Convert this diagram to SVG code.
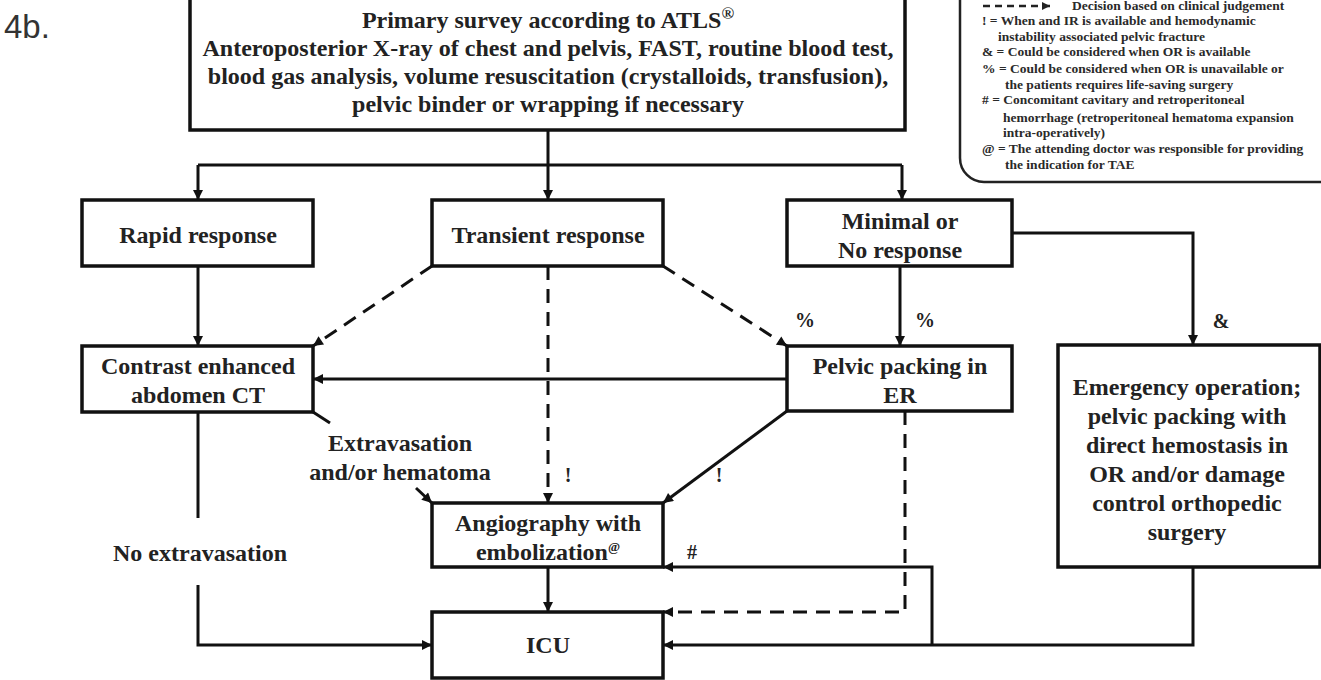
<svg xmlns="http://www.w3.org/2000/svg" width="1321" height="680" viewBox="0 0 1321 680">
<defs>
<style>
.box{fill:#fff;stroke:#111;stroke-width:3.5}
.t{font-family:"Liberation Serif","Times New Roman",serif;font-weight:bold;font-size:24px;fill:#222;text-anchor:middle}
.lbl{font-family:"Liberation Serif","Times New Roman",serif;font-weight:bold;font-size:20px;fill:#222}
.lg{font-family:"Liberation Serif","Times New Roman",serif;font-weight:bold;font-size:13.5px;fill:#2a2a2a}
.ln{fill:none;stroke:#111;stroke-width:3}
.ds{fill:none;stroke:#111;stroke-width:3;stroke-dasharray:14 9}
.arr{marker-end:url(#ah)}
</style>
<marker id="ah" viewBox="0 0 10 10" refX="10" refY="5" markerWidth="11" markerHeight="10" markerUnits="userSpaceOnUse" orient="auto"><path d="M0,0 L10,5 L0,10 z" fill="#111"/></marker>
<marker id="ahs" viewBox="0 0 10 10" refX="10" refY="5" markerWidth="9" markerHeight="8" markerUnits="userSpaceOnUse" orient="auto"><path d="M0,0 L10,5 L0,10 z" fill="#222"/></marker>
</defs>
<rect width="1321" height="680" fill="#fff"/>

<text x="4" y="38" font-family="Liberation Sans, Arial, sans-serif" font-size="33" fill="#333">4b.</text>

<g id="legend">
<rect x="960" y="-25" width="385" height="207" rx="24" ry="24" fill="#fff" stroke="#222" stroke-width="2.5"/>
<path d="M983,6 H1050" fill="none" stroke="#222" stroke-width="2.5" stroke-dasharray="7 5" marker-end="url(#ahs)"/>
<text class="lg" x="1072" y="10">Decision based on clinical judgement</text>
<text class="lg" x="982" y="25">! = When and IR is available and hemodynamic</text>
<text class="lg" x="998" y="41">instability associated pelvic fracture</text>
<text class="lg" x="982" y="56">&amp; = Could be considered when OR is available</text>
<text class="lg" x="982" y="73">% = Could be considered when OR is unavailable or</text>
<text class="lg" x="1005" y="89">the patients requires life-saving surgery</text>
<text class="lg" x="982" y="104"># = Concomitant cavitary and retroperitoneal</text>
<text class="lg" x="1003" y="122">hemorrhage (retroperitoneal hematoma expansion</text>
<text class="lg" x="1003" y="137">intra-operatively)</text>
<text class="lg" x="982" y="153">@ = The attending doctor was responsible for providing</text>
<text class="lg" x="1005" y="169">the indication for TAE</text>
</g>

<g id="connectors">
<path class="ln" d="M548,130 V165 M198,165 H902"/>
<path class="ln arr" d="M198,165 V200"/>
<path class="ln arr" d="M548,165 V200"/>
<path class="ln arr" d="M902,165 V200"/>
<path class="ln arr" d="M198,266 V346"/>
<path class="ds arr" d="M432,266 L313,346"/>
<path class="ds arr" d="M548,266 V503"/>
<path class="ds arr" d="M663,266 L787,346"/>
<path class="ln arr" d="M900,266 V346"/>
<path class="ln arr" d="M1012,233 H1193 V345"/>
<path class="ln arr" d="M787,379 H313"/>
<path class="ln arr" d="M787,411 L663,503"/>
<path class="ds arr" d="M905,411 V612 H663"/>
<path class="ln" d="M198,412 V518"/>
<path class="ln arr" d="M198,585 V645 H432"/>
<path class="ln" d="M313,412 L330,423"/>
<path class="ln arr" d="M416,488 L432,503"/>
<path class="ln arr" d="M548,567 V612"/>
<path class="ln arr" d="M1193,567 V645 H663"/>
<path class="ln arr" d="M932,645 V567 H663"/>
</g>

<g id="top">
<rect class="box" x="190" y="-3" width="715" height="133"/>
<text class="t" x="548" y="28">Primary survey according to ATLS<tspan font-size="17" dy="-9">®</tspan></text>
<text class="t" x="548" y="56">Anteroposterior X-ray of chest and pelvis, FAST, routine blood test,</text>
<text class="t" x="548" y="84">blood gas analysis, volume resuscitation (crystalloids, transfusion),</text>
<text class="t" x="548" y="112">pelvic binder or wrapping if necessary</text>
</g>

<g id="rapid">
<rect class="box" x="82" y="200" width="231" height="66"/>
<text class="t" x="198" y="243">Rapid response</text>
</g>

<g id="transient">
<rect class="box" x="432" y="200" width="231" height="66"/>
<text class="t" x="548" y="243">Transient response</text>
</g>

<g id="minimal">
<rect class="box" x="787" y="200" width="225" height="66"/>
<text class="t" x="900" y="229">Minimal or</text>
<text class="t" x="900" y="258">No response</text>
</g>

<g id="ct">
<rect class="box" x="82" y="346" width="231" height="66"/>
<text class="t" x="198" y="374">Contrast enhanced</text>
<text class="t" x="198" y="403">abdomen CT</text>
</g>

<g id="pelvic">
<rect class="box" x="787" y="346" width="225" height="65"/>
<text class="t" x="900" y="374">Pelvic packing in</text>
<text class="t" x="900" y="403">ER</text>
</g>

<g id="emergency">
<rect class="box" x="1058" y="345" width="262" height="222"/>
<text class="t" x="1187" y="395">Emergency operation;</text>
<text class="t" x="1187" y="424">pelvic packing with</text>
<text class="t" x="1187" y="453">direct hemostasis in</text>
<text class="t" x="1187" y="482">OR and/or damage</text>
<text class="t" x="1187" y="511">control orthopedic</text>
<text class="t" x="1187" y="540">surgery</text>
</g>

<g id="angio">
<rect class="box" x="432" y="503" width="231" height="64"/>
<text class="t" x="548" y="531">Angiography with</text>
<text class="t" x="548" y="560">embolization<tspan font-size="13" dy="-9">@</tspan></text>
</g>

<g id="icu">
<rect class="box" x="432" y="612" width="231" height="66"/>
<text class="t" x="548" y="653">ICU</text>
</g>

<g id="labels">
<text class="t" x="400" y="451">Extravasation</text>
<text class="t" x="400" y="480">and/or hematoma</text>
<text class="t" x="200" y="561">No extravasation</text>
<text class="lbl" x="805" y="327" text-anchor="middle">%</text>
<text class="lbl" x="925" y="327" text-anchor="middle">%</text>
<text class="lbl" x="1221" y="328" text-anchor="middle">&amp;</text>
<text class="lbl" x="568" y="482" text-anchor="middle">!</text>
<text class="lbl" x="719" y="482" text-anchor="middle">!</text>
<text class="lbl" x="692" y="559" font-size="16" text-anchor="middle">#</text>
</g>
</svg>
